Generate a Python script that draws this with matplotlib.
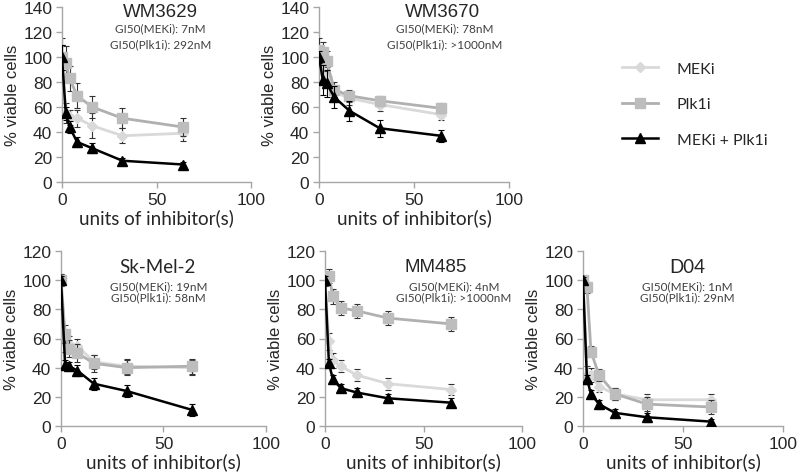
import matplotlib
matplotlib.use("Agg")
import matplotlib.pyplot as plt
from matplotlib.lines import Line2D

# ---------------- data ----------------
x_units = [0, 2, 4, 8, 16, 32, 64]

panel_names = ["WM3629", "WM3670", "Sk-Mel-2", "MM485", "D04"]
gi50_meki = ["7nM", "78nM", "19nM", "4nM", "1nM"]
gi50_plk1i = ["292nM", ">1000nM", "58nM", ">1000nM", "29nM"]

meki_vals = [
    [100, 55, 52, 51, 45, 37, 39],
    [100, 88, 84, 72, 67, 62, 54],
    [100, 58, 56, 55, 44, 41, 40],
    [100, 58, 45, 41, 35, 29, 25],
    [100, 35, 35, 27, 22, 18, 18],
]
meki_err = [
    [15, 8, 6, 7, 10, 6, 6],
    [8, 8, 8, 6, 5, 5, 4],
    [4, 7, 6, 5, 5, 5, 5],
    [4, 6, 5, 4, 4, 4, 4],
    [3, 6, 5, 4, 4, 4, 4],
]
plk_vals = [
    [100, 95, 83, 69, 60, 51, 44],
    [106, 104, 97, 74, 69, 65, 59],
    [100, 63, 53, 50, 43, 40, 41],
    [100, 103, 89, 81, 79, 74, 70],
    [100, 95, 51, 35, 22, 15, 13],
]
plk_err = [
    [10, 14, 10, 10, 9, 8, 7],
    [9, 8, 8, 6, 5, 4, 4],
    [4, 6, 6, 6, 6, 5, 5],
    [4, 5, 5, 5, 5, 5, 5],
    [3, 4, 4, 4, 4, 5, 5],
]
combo_vals = [
    [100, 55, 44, 32, 27, 17, 14],
    [100, 82, 79, 68, 57, 43, 37],
    [100, 42, 41, 38, 29, 24, 11],
    [100, 43, 32, 26, 23, 19, 16],
    [100, 32, 22, 15, 9, 6, 3],
]
combo_err = [
    [10, 5, 5, 4, 4, 2, 2],
    [5, 12, 11, 9, 8, 7, 5],
    [3, 3, 3, 4, 4, 4, 4],
    [3, 3, 3, 3, 3, 3, 3],
    [2, 3, 3, 3, 3, 3, 2],
]
series_labels = ["MEKi", "Plk1i", "MEKi + Plk1i"]
y_max = [140, 140, 120, 120, 120]
y_step = 20
x_ticks = [0, 50, 100]

# ---------------- layout ----------------
W, H = 800, 477
fig = plt.figure(figsize=(8.0, 4.77), dpi=100)

rects_px = [
    (62, 183, 189, 175),
    (319, 183, 190, 175),
    (61, 427, 205, 175),
    (325, 427, 197, 175),
    (583, 427, 200, 175),
]
title_pos = [(0.52, 0.977), (0.65, 0.977), (0.47, 0.909), (0.56, 0.909), (0.52, 0.909)]
gi_pos = [(0.52, 0.88, 0.79), (0.66, 0.88, 0.79), (0.475, 0.80, 0.737),
          (0.655, 0.80, 0.737), (0.52, 0.80, 0.737)]
title_fonts = ["Liberation Sans", "Liberation Sans", "Lato", "Liberation Sans", "Lato"]

c_meki = "#d9d9d9"
c_plk = "#bdbdbd"
c_combo = "#000000"
spine_c = "#a6a6a6"
txt_c = "#262626"

for i in range(5):
    l, yb, w, h = rects_px[i]
    ax = fig.add_axes([l / W, 1 - yb / H, w / W, h / H])
    ax.set_xlim(0, 100)
    ax.set_ylim(0, y_max[i])

    ax.errorbar(x_units, meki_vals[i], yerr=meki_err[i], color=c_meki, lw=2,
                marker="D", ms=5.5, mfc=c_meki, mec=c_meki, ecolor="#333333",
                elinewidth=0.8, capsize=2.5, capthick=0.8, zorder=2)
    ax.errorbar(x_units, plk_vals[i], yerr=plk_err[i], color="#b0b0b0", lw=2,
                marker="s", ms=7, mfc=c_plk, mec=c_plk, ecolor="#333333",
                elinewidth=0.8, capsize=2.5, capthick=0.8, zorder=3)
    ax.errorbar(x_units, combo_vals[i], yerr=combo_err[i], color=c_combo, lw=1.8,
                marker="^", ms=7, mfc=c_combo, mec=c_combo, ecolor="#000000",
                elinewidth=0.8, capsize=2.5, capthick=0.8, zorder=4)

    ax.set_yticks(range(0, y_max[i] + 1, y_step))
    ax.set_xticks(x_ticks)
    for s in ["top", "right"]:
        ax.spines[s].set_visible(False)
    for s in ["left", "bottom"]:
        ax.spines[s].set_color(spine_c)
        ax.spines[s].set_linewidth(1.0)
    ax.tick_params(axis="both", direction="out", length=4, width=1.0, color=spine_c,
                   labelsize=12.5, labelcolor=txt_c, pad=3)
    for lab in ax.get_xticklabels() + ax.get_yticklabels():
        lab.set_fontfamily("Liberation Sans")
    ax.set_ylabel("% viable cells", fontsize=12, family="Liberation Sans",
                  color=txt_c, labelpad=2)
    ax.set_xlabel("units of inhibitor(s)", fontsize=13.5, family="Lato",
                  color=txt_c, labelpad=1)

    tx, ty = title_pos[i]
    ax.text(tx, ty, panel_names[i], transform=ax.transAxes, ha="center", va="center",
            fontsize=13.5, family=title_fonts[i], color=txt_c)
    gx, gy1, gy2 = gi_pos[i]
    ax.text(gx, gy1, "GI50(MEKi): " + gi50_meki[i], transform=ax.transAxes,
            ha="center", va="center", fontsize=8.5, family="Lato", color="#404040")
    ax.text(gx, gy2, "GI50(Plk1i): " + gi50_plk1i[i], transform=ax.transAxes,
            ha="center", va="center", fontsize=8.5, family="Lato", color="#404040")

# legend
handles = [
    Line2D([], [], color=c_meki, lw=2, marker="D", ms=5.5, mfc=c_meki, mec=c_meki),
    Line2D([], [], color="#b0b0b0", lw=2, marker="s", ms=7, mfc=c_plk, mec=c_plk),
    Line2D([], [], color=c_combo, lw=1.8, marker="^", ms=7, mfc=c_combo, mec=c_combo),
]
fig.legend(handles, series_labels, loc="upper left", bbox_to_anchor=(608 / W, 1 - 48 / H),
           frameon=False, prop={"family": "Lato", "size": 11.5},
           handlelength=2.2, handletextpad=1.2, labelspacing=1.35, labelcolor=txt_c)

fig.savefig("out.png", dpi=100)
